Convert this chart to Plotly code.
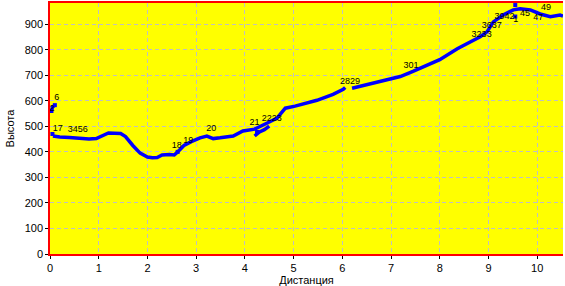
import plotly.graph_objects as go

# Main track segment (km, m)
seg1_x = [0.06, 0.2, 0.4, 0.6, 0.8, 0.95, 1.05, 1.2, 1.45, 1.55, 1.7, 1.85, 2.0, 2.1, 2.2, 2.3,
          2.45, 2.55, 2.62, 2.75, 2.9, 3.08, 3.22, 3.35, 3.49, 3.76, 3.96, 4.2, 4.46, 4.66, 4.83,
          5.03, 5.48, 5.81, 6.02, 6.06]
seg1_y = [462, 458, 456, 452, 450, 452, 462, 474, 472, 460, 425, 395, 380, 377, 378, 388,
          390, 388, 400, 425, 440, 455, 462, 452, 455, 462, 482, 489, 513, 532, 571,
          579, 602, 625, 645, 652]

# Short parallel branch near 4.2-4.5 km
seg2_x = [4.2, 4.3, 4.4, 4.5]
seg2_y = [462, 478, 487, 501]

# Start spur
seg3_x = [0.02, 0.05, 0.1]
seg3_y = [555, 575, 583]

# Track after gap
seg4_x = [6.2, 6.51, 6.78, 7.19, 7.45, 7.8, 8.0, 8.36, 8.56, 8.83, 8.97, 9.1, 9.3, 9.51,
          9.65, 9.86, 10.06, 10.27, 10.47, 10.53]
seg4_y = [649, 664, 676, 695, 715, 742, 761, 804, 824, 851, 870, 909, 936, 956,
          960, 956, 940, 929, 936, 932]

# Waypoint markers
wp_x = [0.03, 0.1, 0.05, 2.62, 4.25, 9.55, 9.55]
wp_y = [560, 583, 470, 400, 478, 975, 930]

# Waypoint labels
lbl_x = [0.14, 0.04, 0.16, 0.57, 2.6, 2.84, 3.31, 4.2, 4.55, 6.16, 7.41,
         8.86, 9.07, 9.33, 9.56, 9.75, 10.02, 10.18]
lbl_y = [610, 567, 490, 486, 423, 445, 490, 515, 528, 676, 738,
         860, 895, 928, 918, 942, 925, 963]
lbl_text = ["6", "2", "17", "3456", "18", "19", "20", "21", "2223", "2829", "301",
            "3233", "3637", "3942", "1", "45", "47", "49"]

x_ticks = [0, 1, 2, 3, 4, 5, 6, 7, 8, 9, 10]
y_ticks = [0, 100, 200, 300, 400, 500, 600, 700, 800, 900]

fig = go.Figure()
line_style = dict(color="#0000ff", width=3.5)
for sx, sy in [(seg1_x, seg1_y), (seg2_x, seg2_y), (seg3_x, seg3_y), (seg4_x, seg4_y)]:
    fig.add_trace(go.Scatter(x=sx, y=sy, mode="lines", line=line_style,
                             showlegend=False, hoverinfo="skip"))

fig.add_trace(go.Scatter(
    x=wp_x, y=wp_y, mode="markers",
    marker=dict(color="#0000ff", size=4, symbol="square"),
    showlegend=False, hoverinfo="skip"))

fig.add_trace(go.Scatter(
    x=lbl_x, y=lbl_y, mode="text", text=lbl_text,
    textposition="middle center",
    textfont=dict(family="Liberation Sans, Arial, sans-serif", size=9, color="black"),
    showlegend=False, hoverinfo="skip", cliponaxis=False))

font = dict(family="Liberation Sans, Arial, sans-serif", size=11, color="black")
fig.update_layout(
    width=565, height=286,
    margin=dict(l=50, r=2, t=1, b=32),
    paper_bgcolor="white",
    plot_bgcolor="#ffff00",
    font=font,
    xaxis=dict(range=[0, 10.53], tickvals=x_ticks, ticks="outside", ticklen=3,
               tickcolor="black", showline=True, linecolor="red", linewidth=1.5,
               mirror=True, showgrid=True, gridcolor="#c0c0c0", griddash="4px,3px",
               gridwidth=1, zeroline=False,
               title=dict(text="Дистанция", font=font, standoff=2)),
    yaxis=dict(range=[0, 983], tickvals=y_ticks, ticks="outside", ticklen=3,
               tickcolor="black", showline=True, linecolor="red", linewidth=1.5,
               showgrid=True, gridcolor="#c0c0c0", griddash="4px,3px",
               gridwidth=1, zeroline=False,
               title=dict(text="Высота", font=font, standoff=8)),
)

fig.write_html("out.html")
